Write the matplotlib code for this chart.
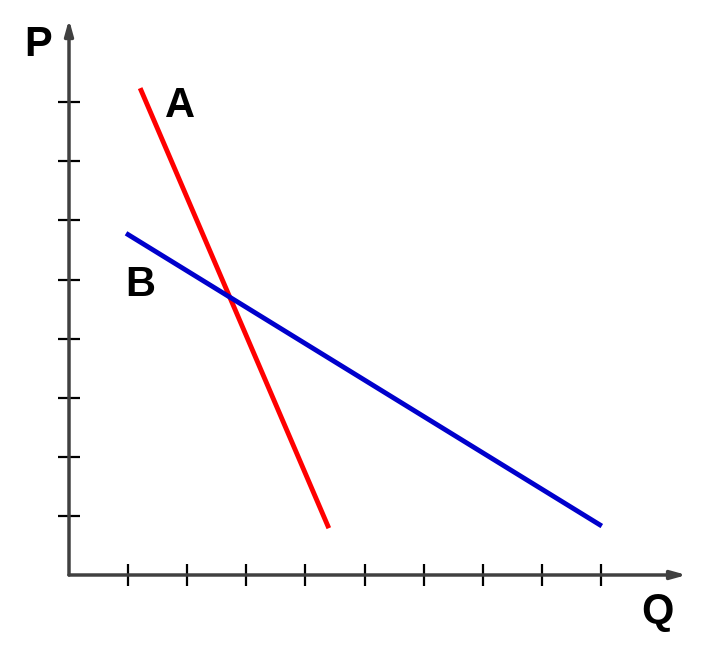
import matplotlib
matplotlib.use("Agg")
import matplotlib.pyplot as plt

# curve endpoints (grid units)
line_a_x = [1.22, 4.38]
line_a_y = [8.2, 0.83]
line_b_x = [1.0, 8.98]
line_b_y = [5.76, 0.85]

x_ticks = [1, 2, 3, 4, 5, 6, 7, 8, 9]
y_ticks = [1, 2, 3, 4, 5, 6, 7, 8]

W, H = 704, 659
ox, oy, unit = 69, 84, 59.1  # origin in px (from left / bottom), px per unit

fig = plt.figure(figsize=(W / 100, H / 100), dpi=100)
ax = fig.add_axes([0, 0, 1, 1])
ax.set_xlim(-ox / unit, (W - ox) / unit)
ax.set_ylim(-oy / unit, (H - oy) / unit)
ax.axis("off")

axis_col = "#404040"
ax.annotate("", xy=(10.45, 0), xytext=(0, 0),
            arrowprops=dict(arrowstyle="-|>,head_length=0.9,head_width=0.25",
                            color=axis_col, lw=2.5, shrinkA=0, shrinkB=0))
ax.annotate("", xy=(0, 9.4), xytext=(0, 0),
            arrowprops=dict(arrowstyle="-|>,head_length=0.9,head_width=0.25",
                            color=axis_col, lw=2.5, shrinkA=0, shrinkB=0))

t = 11 / unit
for xv in x_ticks:
    ax.plot([xv, xv], [-t, t], color="black", lw=1.6, solid_capstyle="butt")
for yv in y_ticks:
    ax.plot([-t, t], [yv, yv], color="black", lw=1.6, solid_capstyle="butt")

ax.plot(line_a_x, line_a_y, color="#ff0000", lw=3.5)
ax.plot(line_b_x, line_b_y, color="#0000cc", lw=3.5)

font = dict(family="Liberation Sans", weight="bold", fontsize=30,
            ha="center", va="center")
ax.text(-0.53, 8.96, "P", **font)
ax.text(9.95, -0.62, "Q", **font)
ax.text(1.88, 7.94, "A", **font)
ax.text(1.2, 4.91, "B", **font)

fig.savefig("out.png", dpi=100)
